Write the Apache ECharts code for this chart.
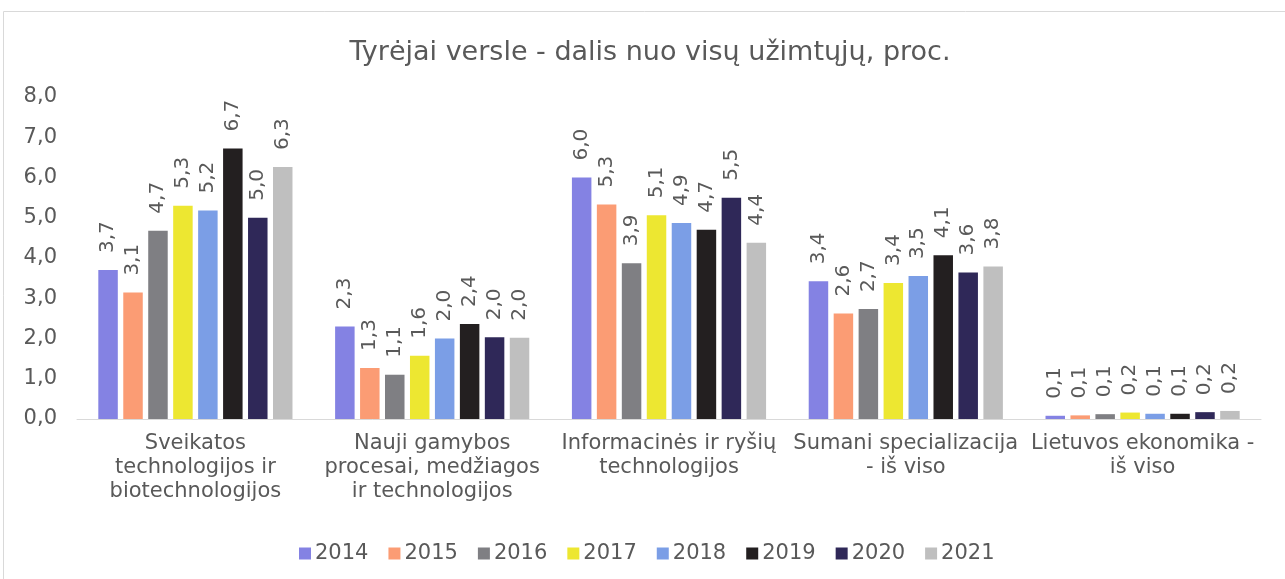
<!DOCTYPE html>
<html>
<head>
<meta charset="utf-8">
<script src="https://cdn.jsdelivr.net/npm/echarts@6/dist/echarts.min.js"></script>
<style>
  html, body { margin: 0; padding: 0; background: #fff; }
  #chart { width: 1285px; height: 579px; }
</style>
</head>
<body>
<div id="chart"></div>
<script>
  const categories = [
    'Sveikatos\ntechnologijos ir\nbiotechnologijos',
    'Nauji gamybos\nprocesai, medžiagos\nir technologijos',
    'Informacinės ir ryšių\ntechnologijos',
    'Sumani specializacija\n- iš viso',
    'Lietuvos ekonomika -\niš viso',
  ]
  const years = ['2014', '2015', '2016', '2017', '2018', '2019', '2020', '2021']
  const colors = ['#8482e3', '#fb9c74', '#7f7f83', '#ede731', '#7b9ee6', '#231f20', '#2f2858', '#bfbfbf']

  // value per year, one entry per category
  const v2014 = [3.7, 2.3, 6.0, 3.42, 0.08]
  const v2015 = [3.14, 1.27, 5.33, 2.62, 0.09]
  const v2016 = [4.68, 1.1, 3.87, 2.73, 0.12]
  const v2017 = [5.3, 1.57, 5.06, 3.38, 0.16]
  const v2018 = [5.18, 2.0, 4.87, 3.55, 0.13]
  const v2019 = [6.72, 2.36, 4.7, 4.07, 0.13]
  const v2020 = [5.0, 2.03, 5.5, 3.64, 0.17]
  const v2021 = [6.26, 2.02, 4.38, 3.79, 0.2]
  const yearValues = [v2014, v2015, v2016, v2017, v2018, v2019, v2020, v2021]

  const textColor = '#595959'
  const fontFamily = '"DejaVu Sans", Verdana, sans-serif'
  const fmt = (v) => Number(v).toFixed(1).replace('.', ',')

  const chart = echarts.init(document.getElementById('chart'))

  const series = years.map((y, i) => ({
    name: y,
    type: 'bar',
    data: yearValues[i],
    barGap: '28%',
    barCategoryGap: '18%',
    itemStyle: { color: colors[i] },
    label: {
      show: true,
      position: 'top',
      rotate: 90,
      align: 'left',
      verticalAlign: 'middle',
      distance: 17,
      color: textColor,
      fontFamily: fontFamily,
      fontSize: 20,
      formatter: (p) => fmt(p.value),
    },
  }))

  const option = {
    animation: false,
    color: colors,
    graphic: [
      {
        type: 'rect',
        silent: true,
        shape: { x: 3.5, y: 11.5, width: 1400, height: 700 },
        style: { fill: 'none', stroke: '#d9d9d9', lineWidth: 1 },
      },
    ],
    title: {
      text: 'Tyrėjai versle - dalis nuo visų užimtųjų, proc.',
      left: 645,
      textAlign: 'center',
      top: 34,
      textStyle: {
        color: textColor,
        fontFamily: fontFamily,
        fontSize: 27,
        fontWeight: 'normal',
      },
    },
    legend: {
      data: years,
      left: 294,
      top: 538,
      icon: 'rect',
      itemWidth: 12,
      itemHeight: 12,
      itemGap: 20,
      textStyle: {
        color: textColor,
        fontFamily: fontFamily,
        fontSize: 21,
        padding: [0, 0, 0, -1],
      },
    },
    grid: { left: 77, right: 24, top: 97, bottom: 160, containLabel: false },
    xAxis: {
      type: 'category',
      data: categories,
      axisTick: { show: false },
      axisLine: { lineStyle: { color: '#d9d9d9', width: 1 } },
      axisLabel: {
        interval: 0,
        margin: 13,
        color: textColor,
        fontFamily: fontFamily,
        fontSize: 21,
        lineHeight: 24,
      },
    },
    yAxis: {
      type: 'value',
      min: 0,
      max: 8,
      interval: 1,
      axisLine: { show: false },
      axisTick: { show: false },
      splitLine: { show: false },
      axisLabel: {
        margin: 20,
        color: textColor,
        fontFamily: fontFamily,
        fontSize: 21,
        formatter: (v) => fmt(v),
      },
    },
    series: series,
  }

  chart.setOption(option)
</script>
</body>
</html>
